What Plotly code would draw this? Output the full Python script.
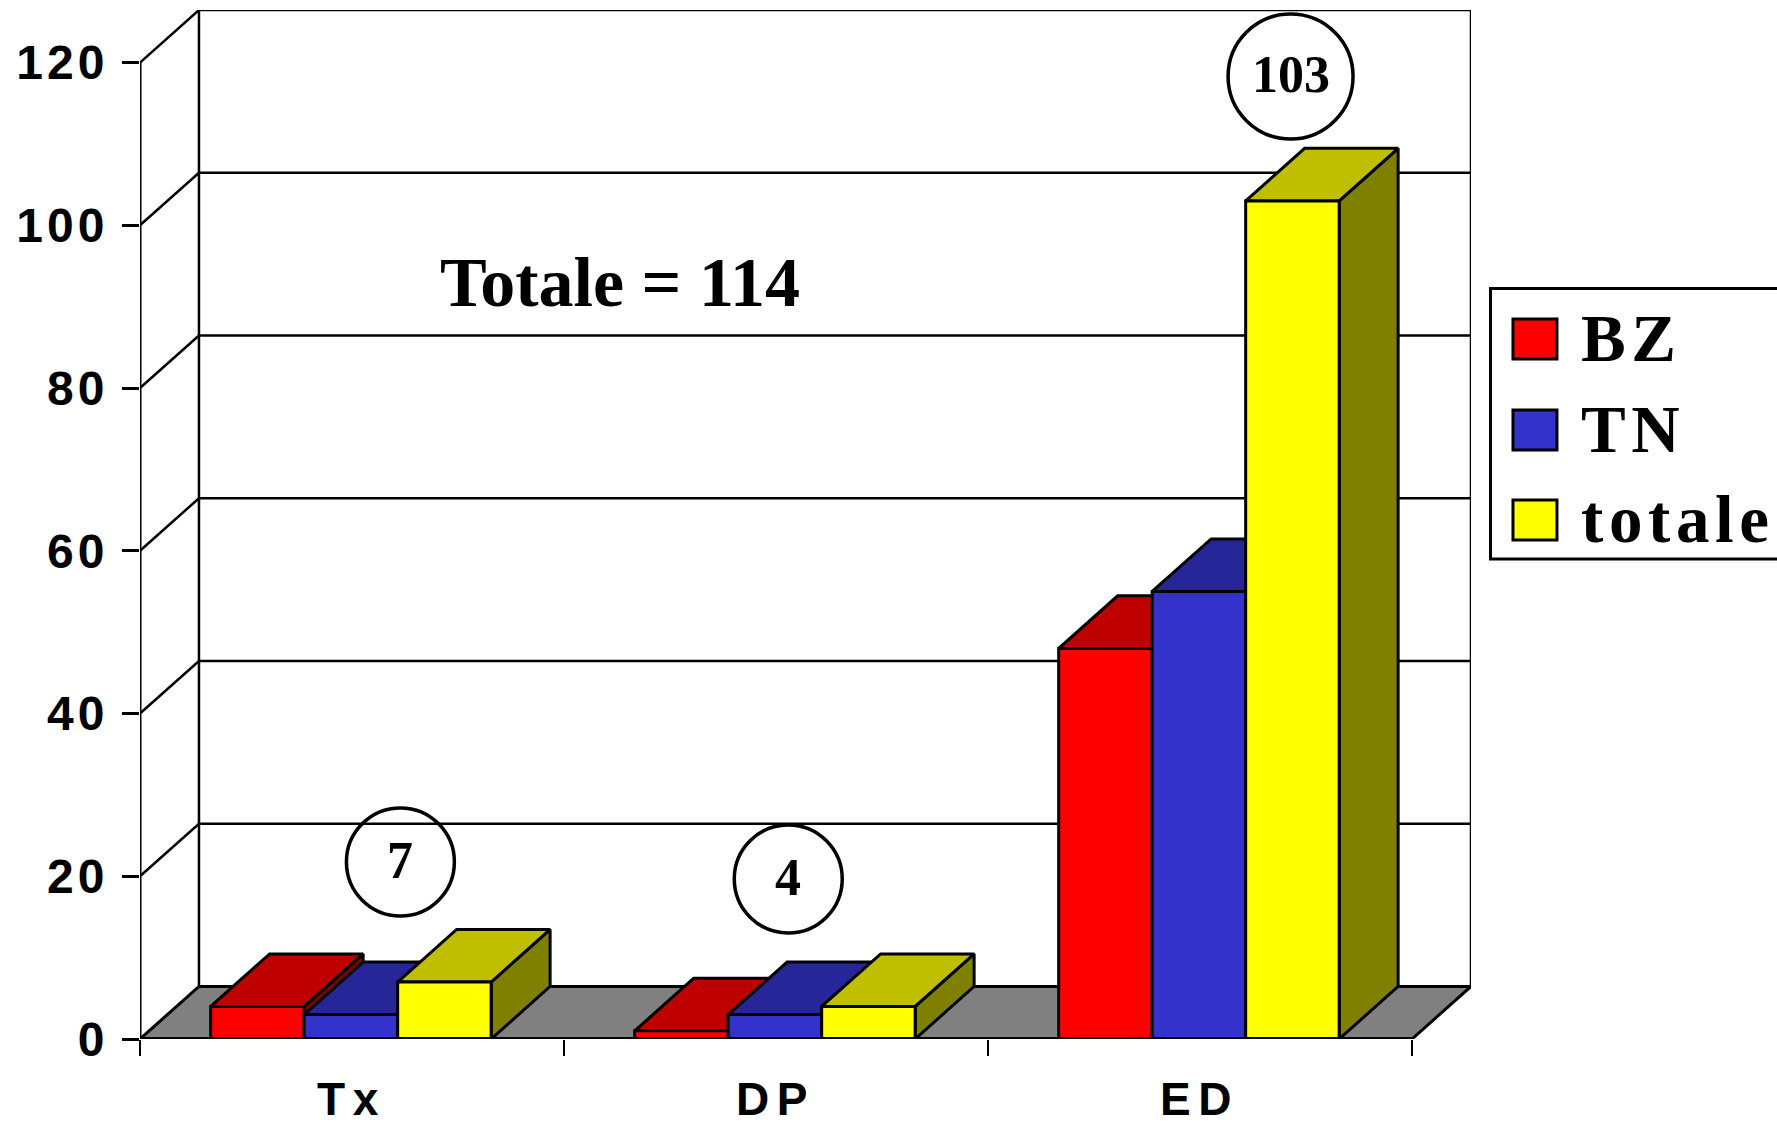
import plotly.graph_objects as go

HS = "\u200a"
categories = ["Tx", "DP", "ED"]
series_names = ["BZ", "TN", "totale"]
bz_values = [4, 1, 48]
tn_values = [3, 3, 55]
totale_values = [7, 4, 103]
y_ticks = [0, 20, 40, 60, 80, 100, 120]
circled_totals = ["7", "4", "103"]
grand_total_label = "Totale = 114"

front_colors = ["#FF0000", "#3333CC", "#FFFF00"]
top_colors = ["#BF0000", "#262699", "#BFBF00"]
side_colors = ["#800000", "#1A1A66", "#808000"]

W, H = 1777, 1125
L, R, T, B = 139.5, 1471.0, 10.0, 1039.0
DX = 59 / 424.2          # depth in category units
DY = 52.5 / 8.13         # depth in value units
X_MAX = 3 + DX
Y_MAX = 120 + DY
BAR_W = 0.2205
MARGIN = 1 / 6


def px(x):
    return (x - L) / (R - L)


def py(y):
    return (B - y) / (B - T)


def poly_trace(xs, ys, fill):
    return go.Scatter(x=xs, y=ys, mode="lines", fill="toself", fillcolor=fill,
                      line=dict(color="black", width=3), cliponaxis=False,
                      showlegend=False, hoverinfo="skip")


def line_trace(xs, ys, width):
    return go.Scatter(x=xs, y=ys, mode="lines", line=dict(color="black", width=width),
                      cliponaxis=False, showlegend=False, hoverinfo="skip")


fig = go.Figure()

# floor
fig.add_trace(poly_trace([0, 3, 3 + DX, DX, 0], [0, 0, DY, DY, 0], "#808080"))

# walls and gridlines
gx, gy = [], []
for v in y_ticks[1:]:
    gx += [0, DX, X_MAX, None]
    gy += [v, v + DY, v + DY, None]
fig.add_trace(line_trace(gx, gy, 2.5))
fig.add_trace(line_trace([DX, DX, None, X_MAX, X_MAX], [DY, Y_MAX, None, DY, Y_MAX], 2.5))
fig.add_trace(line_trace([0, 0], [0, 120], 3))

# 3-D bars
for s, values in enumerate([bz_values, tn_values, totale_values]):
    fx, fy, tx, ty, sx, sy = [], [], [], [], [], []
    for c, v in enumerate(values):
        x0 = c + MARGIN + s * BAR_W
        x1 = x0 + BAR_W
        fx += [x0, x1, x1, x0, x0, None]
        fy += [0, 0, v, v, 0, None]
        tx += [x0, x1, x1 + DX, x0 + DX, x0, None]
        ty += [v, v, v + DY, v + DY, v, None]
        sx += [x1, x1 + DX, x1 + DX, x1, x1, None]
        sy += [0, DY, v + DY, v, 0, None]
    fig.add_trace(poly_trace(sx, sy, side_colors[s]))
    fig.add_trace(poly_trace(tx, ty, top_colors[s]))
    fig.add_trace(poly_trace(fx, fy, front_colors[s]))

fig.add_trace(line_trace([0, 3], [0, 0], 4))

shapes, annotations = [], []
SERIF = "Liberation Serif"

# circled totals
circle_boxes = [(400, 862, 54), (788, 879, 54), (1290.5, 76.5, 62.5)]
for label, (cx, cy, r) in zip(circled_totals, circle_boxes):
    shapes.append(dict(type="circle", xref="paper", yref="paper",
                       x0=px(cx - r), x1=px(cx + r), y0=py(cy + r), y1=py(cy - r),
                       line=dict(color="black", width=3.5), layer="above"))
    annotations.append(dict(x=px(cx), y=py(cy - 2), xref="paper", yref="paper", text=f"<b>{label}</b>",
                            showarrow=False, xanchor="center", yanchor="middle",
                            font=dict(family=SERIF, size=52, color="black")))

annotations.append(dict(x=px(438), y=py(283), xref="paper", yref="paper",
                        text=f"<b>{grand_total_label}</b>", showarrow=False,
                        xanchor="left", yanchor="middle",
                        font=dict(family=SERIF, size=70, color="black")))

# legend panel
shapes.append(dict(type="rect", xref="paper", yref="paper",
                   x0=px(1490.5), x1=px(1800), y0=py(559), y1=py(288.5),
                   line=dict(color="black", width=3), fillcolor="white", layer="above"))
for name, color, yc in zip(series_names, front_colors, [338, 429, 519]):
    shapes.append(dict(type="rect", xref="paper", yref="paper",
                       x0=px(1513), x1=px(1557), y0=py(yc + 21), y1=py(yc - 19),
                       line=dict(color="black", width=3), fillcolor=color, layer="above"))
    annotations.append(dict(x=px(1579), y=py(yc), xref="paper", yref="paper",
                            text="<b>" + HS.join(name) + "</b>", showarrow=False,
                            xanchor="left", yanchor="middle",
                            font=dict(family=SERIF, size=67, color="black")))

fig.update_layout(
    width=W, height=H, margin=dict(l=L, r=W - R, t=T, b=H - B, pad=0, autoexpand=False),
    paper_bgcolor="white", plot_bgcolor="white", showlegend=False,
    shapes=shapes, annotations=annotations,
    xaxis=dict(range=[0, X_MAX], showgrid=False, zeroline=False, showline=False, automargin=False,
               tickmode="array", tickvals=[0.49, 1.49, 2.49],
               ticktext=[(HS + HS).join(c) for c in categories],
               ticks="", ticklabelstandoff=29,
               tickfont=dict(family="Liberation Sans", size=46, color="black", weight="bold"),
               minor=dict(tickmode="array", tickvals=[0, 1, 2, 3], ticks="outside",
                          ticklen=16, tickwidth=2, tickcolor="black", showgrid=False)),
    yaxis=dict(range=[0, Y_MAX], showgrid=False, zeroline=False, showline=False, automargin=False,
               tickmode="array", tickvals=y_ticks,
               ticktext=[HS.join(str(v)) for v in y_ticks],
               ticks="outside", ticklen=17, tickwidth=3, tickcolor="black",
               ticklabelstandoff=8,
               tickfont=dict(family="Liberation Sans", size=48, color="black", weight="bold")),
)

fig.write_html("out.html", post_script="document.body.style.margin='0';",
               config=dict(displayModeBar=False))
